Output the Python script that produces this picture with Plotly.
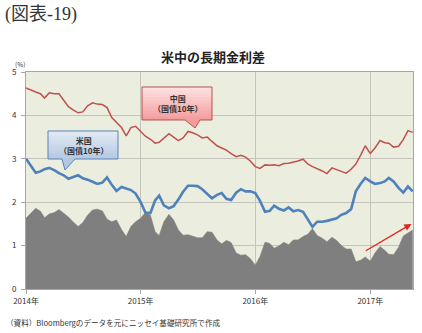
import plotly.graph_objects as go

dates = [
    "2014-01-01","2014-01-16","2014-02-01","2014-02-16","2014-03-01","2014-03-16","2014-04-01","2014-04-16",
    "2014-05-01","2014-05-16","2014-06-01","2014-06-16","2014-07-01","2014-07-16","2014-08-01","2014-08-16",
    "2014-09-01","2014-09-16","2014-10-01","2014-10-16","2014-11-01","2014-11-16","2014-12-01","2014-12-16",
    "2015-01-01","2015-01-16","2015-02-01","2015-02-16","2015-03-01","2015-03-16","2015-04-01","2015-04-16",
    "2015-05-01","2015-05-16","2015-06-01","2015-06-16","2015-07-01","2015-07-16","2015-08-01","2015-08-16",
    "2015-09-01","2015-09-16","2015-10-01","2015-10-16","2015-11-01","2015-11-16","2015-12-01","2015-12-16",
    "2016-01-01","2016-01-16","2016-02-01","2016-02-16","2016-03-01","2016-03-16","2016-04-01","2016-04-16",
    "2016-05-01","2016-05-16","2016-06-01","2016-06-16","2016-07-01","2016-07-16","2016-08-01","2016-08-16",
    "2016-09-01","2016-09-16","2016-10-01","2016-10-16","2016-11-01","2016-11-16","2016-12-01","2016-12-16",
    "2017-01-01","2017-01-16","2017-02-01","2017-02-16","2017-03-01","2017-03-16","2017-04-01","2017-04-16",
    "2017-05-01","2017-05-16",
]

china_10y = [
    4.63,4.58,4.54,4.50,4.40,4.52,4.50,4.50,4.36,4.20,
    4.12,4.06,4.08,4.22,4.29,4.26,4.25,4.18,3.95,3.85,
    3.72,3.53,3.72,3.75,3.63,3.52,3.45,3.36,3.38,3.48,
    3.58,3.50,3.42,3.48,3.63,3.60,3.55,3.48,3.50,3.40,
    3.30,3.25,3.20,3.12,3.05,3.08,3.04,2.95,2.82,2.78,
    2.86,2.85,2.86,2.84,2.89,2.90,2.92,2.95,2.99,2.88,
    2.82,2.78,2.72,2.66,2.79,2.75,2.71,2.67,2.76,2.88,
    3.08,3.30,3.12,3.25,3.42,3.37,3.36,3.27,3.29,3.44,
    3.65,3.61,
]

us_10y = [
    3.00,2.83,2.68,2.71,2.76,2.79,2.74,2.67,2.62,2.54,
    2.58,2.62,2.55,2.52,2.47,2.42,2.45,2.57,2.40,2.26,
    2.35,2.32,2.28,2.20,2.00,1.76,1.75,2.04,2.15,1.93,
    1.86,1.91,2.06,2.24,2.38,2.38,2.37,2.30,2.18,2.09,
    2.17,2.21,2.08,2.05,2.22,2.30,2.25,2.25,2.21,2.03,
    1.78,1.80,1.92,1.85,1.81,1.88,1.79,1.82,1.78,1.62,
    1.43,1.55,1.55,1.57,1.60,1.63,1.71,1.75,1.84,2.25,
    2.42,2.56,2.48,2.42,2.44,2.48,2.56,2.48,2.33,2.22,
    2.36,2.25,
]

spread = [
    1.63,1.75,1.86,1.79,1.64,1.73,1.76,1.83,1.74,1.66,
    1.54,1.44,1.53,1.70,1.82,1.84,1.80,1.61,1.55,1.59,
    1.37,1.21,1.44,1.55,1.63,1.76,1.70,1.32,1.23,1.55,
    1.72,1.59,1.36,1.24,1.25,1.22,1.18,1.18,1.32,1.31,
    1.13,1.04,1.12,1.07,0.83,0.78,0.79,0.70,0.55,0.75,
    1.08,1.05,0.94,0.99,1.08,1.02,1.13,1.13,1.21,1.26,
    1.39,1.23,1.17,1.09,1.19,1.12,1.00,0.92,0.92,0.63,
    0.66,0.74,0.64,0.83,0.98,0.89,0.80,0.79,0.96,1.22,
    1.29,1.36,
]

year_ticks = ["2014-01-01", "2015-01-01", "2016-01-01", "2017-01-01"]
year_labels = ["2014年", "2015年", "2016年", "2017年"]
y_ticks = [0, 1, 2, 3, 4, 5]

arrow_from = ("2016-12-13", 0.86)
arrow_to = ("2017-05-12", 1.50)

W, H = 422, 333
ML, MR, MT, MB = 26, 9, 72, 44
PW, PH = W - ML - MR, H - MT - MB
FONT = "Noto Sans CJK JP, Noto Sans, sans-serif"


def px(X):
    return (X - ML) / PW


def py(Y):
    return (H - MB - Y) / PH


def hex2rgb(h):
    h = h.lstrip("#")
    return tuple(int(h[i:i + 2], 16) for i in (0, 2, 4))


def mix(c1, c2, t):
    a, b = hex2rgb(c1), hex2rgb(c2)
    return "rgb(%d,%d,%d)" % tuple(round(a[i] + (b[i] - a[i]) * t) for i in range(3))


fig = go.Figure()
fig.add_trace(go.Scatter(x=dates, y=spread, mode="lines", fill="tozeroy",
                         line=dict(color="#7F7F7F", width=0.6), fillcolor="#7F7F7F",
                         hoverinfo="skip"))
fig.add_trace(go.Scatter(x=dates, y=china_10y, mode="lines",
                         line=dict(color="#C0504D", width=1.5)))
fig.add_trace(go.Scatter(x=dates, y=us_10y, mode="lines",
                         line=dict(color="#4F81BD", width=2.6)))

shapes = []
annotations = []


def callout(x0, y0, x1, y1, bl, br, tipx, tipy, top_col, bot_col, border, text, tcol):
    n = 10
    for i in range(n):
        ya = y0 + (y1 - y0) * i / n
        yb = y0 + (y1 - y0) * (i + 1) / n + 0.6
        shapes.append(dict(type="rect", xref="paper", yref="paper", layer="above",
                           x0=px(x0), x1=px(x1), y0=py(ya), y1=py(min(yb, y1)),
                           fillcolor=mix(top_col, bot_col, (i + 0.5) / n),
                           line=dict(width=0)))
    shapes.append(dict(type="path", xref="paper", yref="paper", layer="above",
                       path="M %f,%f L %f,%f L %f,%f Z" % (px(bl), py(y1 - 0.5), px(tipx), py(tipy),
                                                         px(br), py(y1 - 0.5)),
                       fillcolor=bot_col, line=dict(width=0)))
    outline = "M %f,%f L %f,%f L %f,%f L %f,%f L %f,%f L %f,%f L %f,%f Z" % (
        px(x0), py(y0), px(x1), py(y0), px(x1), py(y1), px(br), py(y1),
        px(tipx), py(tipy), px(bl), py(y1), px(x0), py(y1))
    shapes.append(dict(type="path", xref="paper", yref="paper", layer="above",
                       path=outline, fillcolor="rgba(0,0,0,0)",
                       line=dict(color=border, width=1)))
    annotations.append(dict(xref="paper", yref="paper", x=px((x0 + x1) / 2), y=py((y0 + y1) / 2),
                            xanchor="center", yanchor="middle", showarrow=False,
                            text=text, align="center",
                            font=dict(family=FONT, size=8, color=tcol)))


callout(142, 87, 212, 120, 185, 200, 195, 128, "#FDE3E3", "#F49B9B", "#B8504E",
        "<b>中国</b><br><b>（国債10年）</b>", "#333333")
callout(48, 131, 118, 159, 62, 75, 65, 170, "#E3EBF5", "#B3C7E2", "#5A82B8",
        "<b>米国</b><br><b>（国債10年）</b>", "#333333")

annotations.append(dict(x=arrow_to[0], y=arrow_to[1], ax=arrow_from[0], ay=arrow_from[1],
                        xref="x", yref="y", axref="x", ayref="y", text="", showarrow=True,
                        arrowhead=2, arrowsize=1.1, arrowwidth=1.3, arrowcolor="#E0251E"))

annotations.append(dict(xref="paper", yref="paper", x=px(213), y=py(57), xanchor="center",
                        yanchor="middle", showarrow=False, text="<b>米中の長期金利差</b>",
                        font=dict(family=FONT, size=13, color="#222222")))
annotations.append(dict(xref="paper", yref="paper", x=px(3), y=py(14), xanchor="left",
                        yanchor="middle", showarrow=False, text="(図表-19)",
                        font=dict(family="Liberation Serif, Noto Sans CJK JP, serif", size=18,
                                  color="#333333")))
annotations.append(dict(xref="paper", yref="paper", x=px(20), y=py(64), xanchor="center",
                        yanchor="middle", showarrow=False, text="(%)",
                        font=dict(family=FONT, size=6.5, color="#333333")))
annotations.append(dict(xref="paper", yref="paper", x=px(4), y=py(322), xanchor="left",
                        yanchor="middle", showarrow=False,
                        text="（資料）Bloombergのデータを元にニッセイ基礎研究所で作成",
                        font=dict(family=FONT, size=7.6, color="#333333")))

fig.update_layout(
    width=W, height=H,
    margin=dict(l=ML, r=MR, t=MT, b=MB, pad=0),
    paper_bgcolor="white",
    plot_bgcolor="#EBEEDF",
    showlegend=False,
    shapes=shapes,
    annotations=annotations,
    xaxis=dict(type="date", range=["2014-01-01", "2017-05-17"],
               tickvals=year_ticks, ticktext=year_labels,
               showgrid=True, gridcolor="#C4C4BC", gridwidth=1,
               ticks="outside", ticklen=4, tickcolor="#A6A6A6",
               showline=True, linecolor="#A6A6A6", mirror=True, zeroline=False,
               tickfont=dict(family=FONT, size=8, color="#333333")),
    yaxis=dict(range=[0, 5], tickvals=y_ticks,
               showgrid=True, gridcolor="#C4C4BC", gridwidth=1,
               ticks="outside", ticklen=4, tickcolor="#A6A6A6",
               showline=True, linecolor="#A6A6A6", mirror=True, zeroline=False,
               ticklabelstandoff=3,
               tickfont=dict(family=FONT, size=8, color="#333333")),
)

fig.write_html("out.html")
